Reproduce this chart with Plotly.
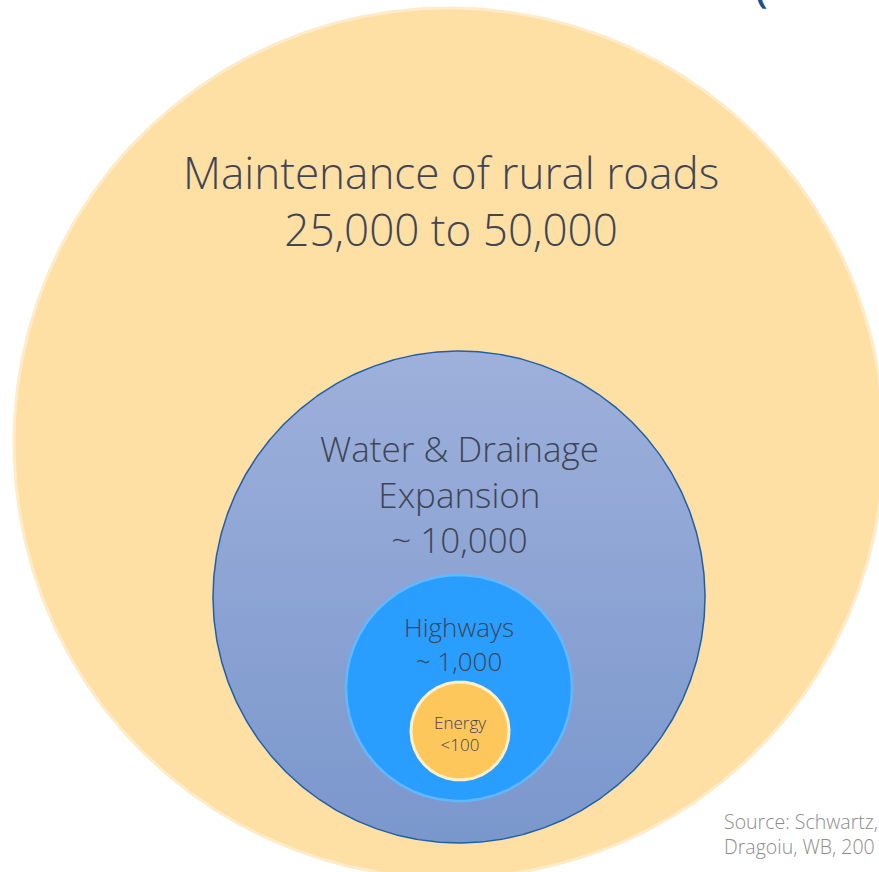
import numpy as np
import plotly.graph_objects as go

# nested circles: outermost to innermost
names = ["Maintenance of rural roads", "Water & Drainage<br>Expansion", "Highways", "Energy"]
amounts = ["25,000 to 50,000", "~ 10,000", "~ 1,000", "<100"]
source_lines = ["Source: Schwartz,", "Dragoiu, WB, 200"]

# geometry in pixels (x right, y down)
centers = [(449, 443), (459, 597), (459, 688), (460, 731)]
radii = [435, 246, 113, 49]
fills = ["#FEDFA4", None, "#2A9EFF", "#FDC75B"]
lines = [dict(color="#FFEBC8", width=3), dict(color="#1F5FA8", width=1.5),
         dict(color="#62B8FF", width=2.5), dict(color="#FFF0C8", width=3)]
label_x = [451, 459, 459, 460]
label_y = [200, 494, 644, 733]
label_size = [44, 35, 26, 17]

W, H = 879, 872
fig = go.Figure()
t = np.linspace(0, 2 * np.pi, 721)

for i, ((cx, cy), r) in enumerate(zip(centers, radii)):
    kw = dict(
        x=cx + r * np.cos(t), y=cy + r * np.sin(t),
        mode="lines", fill="toself", line=lines[i], hoverinfo="skip", showlegend=False,
    )
    if fills[i] is None:
        kw["fillgradient"] = dict(type="vertical",
                                  colorscale=[[0, "#7A97CC"], [1, "#9EB0DB"]])
    else:
        kw["fillcolor"] = fills[i]
    fig.add_trace(go.Scatter(**kw))

txt_font = dict(family="Open Sans", color="#3E4555", weight=300)
for i in range(len(names)):
    fig.add_annotation(
        x=label_x[i], y=label_y[i], xref="x", yref="y",
        text=names[i] + "<br>" + amounts[i], showarrow=False,
        font=dict(txt_font, size=label_size[i]), align="center",
    )

fig.add_annotation(
    x=722, y=834, xref="x", yref="y", xanchor="left", yanchor="middle",
    text="<br>".join(source_lines), showarrow=False, align="left",
    font=dict(family="Open Sans", color="#8C8C8C", size=19.5, weight=300),
)
# bottom of a bracket from a heading that sits above the frame (cut off as in the original)
fig.add_annotation(
    x=770 / W, y=1 + 42 / H, xref="paper", yref="paper", text="(", showarrow=False,
    font=dict(family="Open Sans", color="#1F4E8C", size=40, weight=600),
)

fig.update_xaxes(range=[0, W], visible=False)
fig.update_yaxes(range=[H, 0], visible=False, scaleanchor="x")
fig.update_layout(
    width=W, height=H, margin=dict(l=0, r=0, t=0, b=0),
    plot_bgcolor="white", paper_bgcolor="white",
)
fig.write_html("out.html", config={"displayModeBar": False},
               post_script="document.body.style.margin='0';")
